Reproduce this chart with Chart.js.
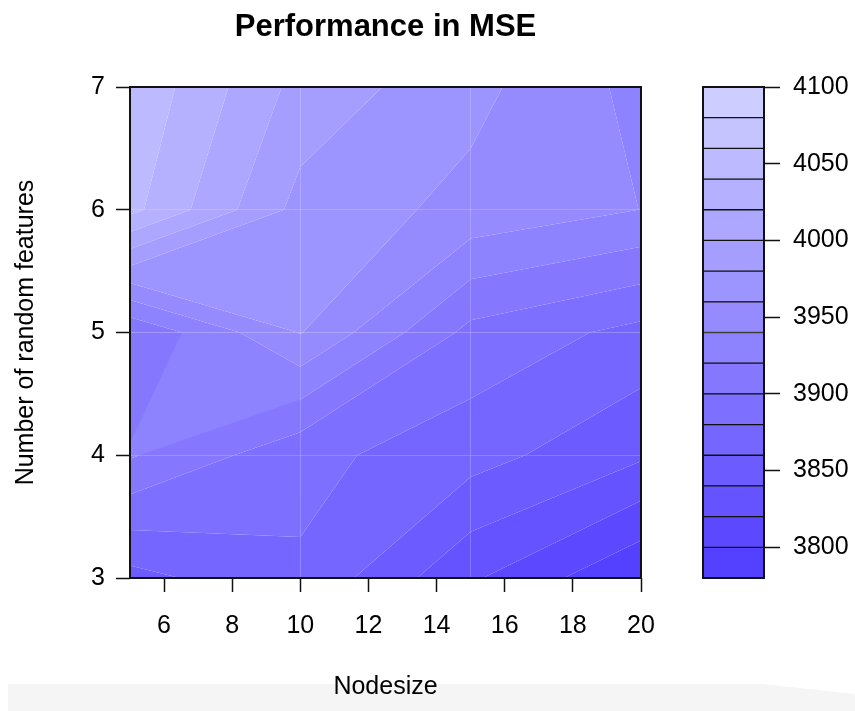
<!DOCTYPE html>
<html>
<head>
<meta charset="utf-8">
<script src="https://cdn.jsdelivr.net/npm/chart.js@4/dist/chart.umd.min.js"></script>
<style>
  html, body { margin: 0; padding: 0; background: #ffffff; }
  #wrap { position: relative; width: 855px; height: 711px; overflow: hidden; background: #ffffff; }
  #strip { position: absolute; left: 8px; top: 684px; width: 847px; height: 27px; background: #f5f5f5;
           clip-path: polygon(0 0, 755px 0, 847px 10px, 847px 27px, 0 27px); }
  #main { position: absolute; left: 0; top: 0; }
  #key { position: absolute; left: 680px; top: 0; }
</style>
</head>
<body>
<div id="wrap">
  <div id="strip"></div>
  <canvas id="main" width="680" height="711"></canvas>
  <canvas id="key" width="175" height="711"></canvas>
</div>
<script>
// Grid of tuning results: MSE for each nodesize (columns) and number of random features (rows)
const nodesize = [5, 10, 15, 20];
const mtry = [3, 4, 5, 6, 7];
const mseMtry3 = [3853, 3877, 3823, 3781];
const mseMtry4 = [3922, 3886, 3868, 3843];
const mseMtry5 = [3902, 3961, 3894, 3874];
const mseMtry6 = [4046, 3973, 3954, 3939.8];
const mseMtry7 = [4057, 3993, 3966, 3934];
const mseRows = [mseMtry3, mseMtry4, mseMtry5, mseMtry6, mseMtry7];

// Contour levels and axis ticks
const levels = [3780, 3800, 3820, 3840, 3860, 3880, 3900, 3920, 3940, 3960, 3980, 4000, 4020, 4040, 4060, 4080, 4100];
const xTicks = [6, 8, 10, 12, 14, 16, 18, 20];
const yTicks = [3, 4, 5, 6, 7];
const keyTicks = [3800, 3850, 3900, 3950, 4000, 4050, 4100];

const FONT = "'Liberation Sans', Arial, Helvetica, sans-serif";

// Blue-to-lavender ramp, one colour per band
const lowColor = [84, 64, 255];
const highColor = [206, 205, 255];
const nBands = levels.length - 1;
const bandColors = [];
for (let k = 0; k < nBands; k++) {
  const t = k / (nBands - 1);
  const c = lowColor.map((v, i) => Math.round(v + t * (highColor[i] - v)));
  bandColors.push(`rgb(${c[0]},${c[1]},${c[2]})`);
}

// Polygon of one cell lying inside [lo, hi): walk the four edges, keep corners
// inside the band and the points where the edge crosses lo or hi.
function bandPolygon(pts, vals, lo, hi, isLast) {
  const out = [];
  const inside = v => v >= lo && (isLast ? v <= hi : v < hi);
  for (let k = 0; k < 4; k++) {
    const a = pts[k], b = pts[(k + 1) % 4];
    const va = vals[k], vb = vals[(k + 1) % 4];
    if (inside(va)) out.push(a);
    const cuts = [];
    for (const L of [lo, hi]) {
      if ((va < L && vb > L) || (va > L && vb < L)) cuts.push((L - va) / (vb - va));
    }
    cuts.sort((p, q) => p - q);
    for (const t of cuts) out.push([a[0] + t * (b[0] - a[0]), a[1] + t * (b[1] - a[1])]);
  }
  return out;
}

const filledContour = {
  id: 'filledContour',
  beforeDatasetsDraw(chart) {
    const {ctx, chartArea, scales: {x, y}} = chart;
    ctx.save();
    ctx.beginPath();
    ctx.rect(chartArea.left, chartArea.top, chartArea.right - chartArea.left, chartArea.bottom - chartArea.top);
    ctx.clip();
    for (let i = 0; i < nodesize.length - 1; i++) {
      for (let j = 0; j < mtry.length - 1; j++) {
        const pts = [[nodesize[i], mtry[j]], [nodesize[i + 1], mtry[j]],
                     [nodesize[i + 1], mtry[j + 1]], [nodesize[i], mtry[j + 1]]];
        const vals = [mseRows[j][i], mseRows[j][i + 1], mseRows[j + 1][i + 1], mseRows[j + 1][i]];
        for (let k = 0; k < nBands; k++) {
          const poly = bandPolygon(pts, vals, levels[k], levels[k + 1], k === nBands - 1);
          if (poly.length < 3) continue;
          ctx.beginPath();
          poly.forEach((p, n) => {
            const px = x.getPixelForValue(p[0]), py = y.getPixelForValue(p[1]);
            if (n === 0) ctx.moveTo(px, py); else ctx.lineTo(px, py);
          });
          ctx.closePath();
          ctx.fillStyle = bandColors[k];
          ctx.fill();
        }
      }
    }
    ctx.restore();
  },
  afterDraw(chart) {
    const {ctx, chartArea} = chart;
    ctx.save();
    ctx.strokeStyle = '#111';
    ctx.lineWidth = 2;
    ctx.strokeRect(chartArea.left, chartArea.top, chartArea.right - chartArea.left, chartArea.bottom - chartArea.top);
    ctx.fillStyle = '#000';
    ctx.font = `bold 31px ${FONT}`;
    ctx.textAlign = 'center';
    ctx.textBaseline = 'alphabetic';
    ctx.fillText('Performance in MSE', (chartArea.left + chartArea.right) / 2, 36);
    ctx.restore();
  }
};

const keyFrame = {
  id: 'keyFrame',
  afterDraw(chart) {
    const {ctx, chartArea} = chart;
    ctx.save();
    ctx.strokeStyle = '#111';
    ctx.lineWidth = 2;
    ctx.strokeRect(chartArea.left, chartArea.top, chartArea.right - chartArea.left, chartArea.bottom - chartArea.top);
    ctx.restore();
  }
};

const tickFont = {family: FONT, size: 25, lineHeight: 1.2};

new Chart(document.getElementById('main'), {
  type: 'scatter',
  data: {datasets: [{data: [], pointRadius: 0}]},
  options: {
    responsive: false,
    animation: false,
    devicePixelRatio: 1,
    layout: {padding: {top: 87, right: 39, left: 0, bottom: 0}},
    plugins: {legend: {display: false}, tooltip: {enabled: false}, title: {display: false}},
    scales: {
      x: {
        type: 'linear', min: 5, max: 20,
        afterBuildTicks: s => { s.ticks = xTicks.map(v => ({value: v})); },
        afterFit: s => { s.height = 133; },
        grid: {drawOnChartArea: false, drawTicks: true, tickLength: 14, tickWidth: 1.5, tickColor: '#111'},
        border: {display: false},
        ticks: {color: '#000', font: tickFont, padding: 19, maxRotation: 0, autoSkip: false,
                callback: v => String(v)},
        title: {display: true, text: 'Nodesize', color: '#000', font: tickFont, padding: {top: 0, bottom: 9}}
      },
      y: {
        type: 'linear', min: 3, max: 7,
        afterBuildTicks: s => { s.ticks = yTicks.map(v => ({value: v})); },
        afterFit: s => { s.width = 130; },
        grid: {drawOnChartArea: false, drawTicks: true, tickLength: 14, tickWidth: 1.5, tickColor: '#111'},
        border: {display: false},
        ticks: {color: '#000', font: tickFont, padding: 11, autoSkip: false, callback: v => String(v)},
        title: {display: true, text: 'Number of random features', color: '#000', font: tickFont, padding: {top: 11, bottom: 0}}
      }
    }
  },
  plugins: [filledContour]
});

new Chart(document.getElementById('key'), {
  type: 'bar',
  data: {
    labels: [''],
    datasets: bandColors.map((c, k) => ({
      data: [[levels[k], levels[k + 1]]],
      backgroundColor: c,
      borderColor: '#111',
      borderWidth: 1,
      borderSkipped: false,
      grouped: false,
      barPercentage: 1,
      categoryPercentage: 1
    }))
  },
  options: {
    responsive: false,
    animation: false,
    devicePixelRatio: 1,
    layout: {padding: {top: 87, bottom: 133, left: 23, right: 0}},
    plugins: {legend: {display: false}, tooltip: {enabled: false}},
    scales: {
      x: {display: false},
      y: {
        position: 'right', min: levels[0], max: levels[levels.length - 1],
        afterBuildTicks: s => { s.ticks = keyTicks.map(v => ({value: v})); },
        afterFit: s => { s.width = 91; },
        grid: {drawOnChartArea: false, drawTicks: true, tickLength: 16, tickWidth: 1.5, tickColor: '#111'},
        border: {display: false},
        ticks: {color: '#000', font: tickFont, padding: 13, autoSkip: false, callback: v => String(v)}
      }
    }
  },
  plugins: [keyFrame]
});
</script>
</body>
</html>
